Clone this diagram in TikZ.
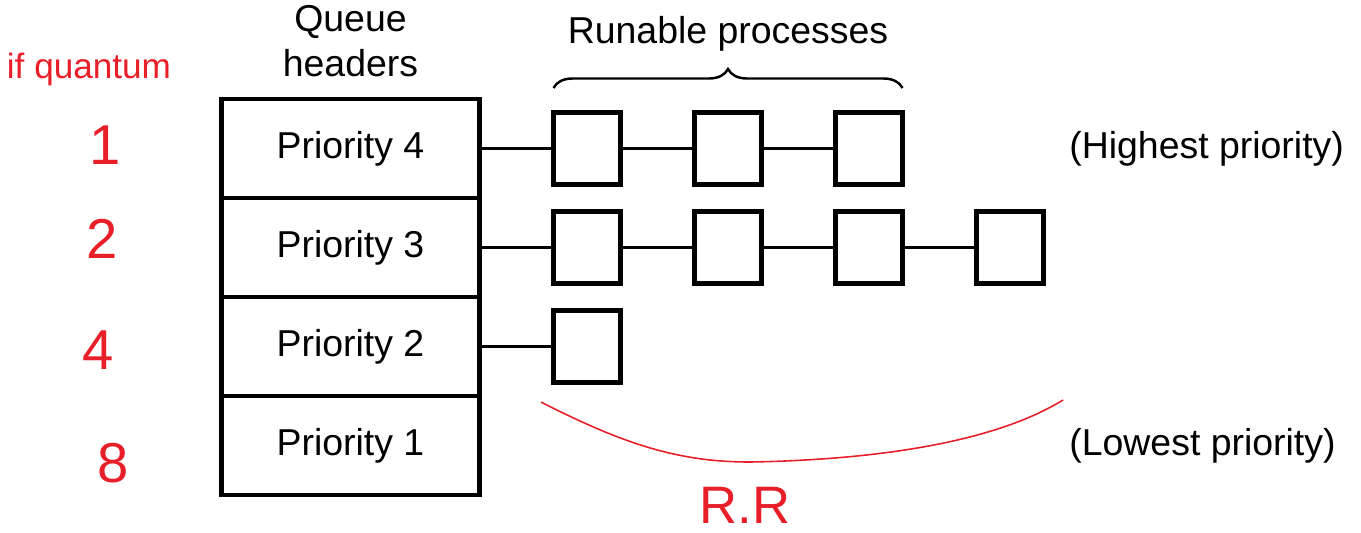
\documentclass[tikz,border=0pt]{standalone}
\usepackage{fontspec}
\setmainfont{Liberation Sans}
\usetikzlibrary{calc, positioning, decorations.pathreplacing}
\definecolor{ink}{RGB}{232,30,40}

\begin{document}
\begin{tikzpicture}[hdr/.style = {draw, line width = 2.3pt, minimum width = 5.16cm, minimum height = 1.98cm, outer sep = 0pt, font = \fontsize{21.3}{25.6}\selectfont},
proc/.style = {draw, line width = 2.3pt, minimum width = 1.34cm, minimum height = 1.44cm, outer sep = 0pt},
lbl/.style = {inner sep = 0pt, font = \fontsize{21.3}{25.6}\selectfont},
hand/.style = {text = ink, inner sep = 0pt, font = \fontsize{32}{36}\selectfont},
node distance = 1.48cm]
\useasboundingbox (0,0) rectangle (27.22,-10.64);
% queue headers
\node[hdr] (P4) at (7.01,-2.97) {Priority 4};
\node[hdr, below = 0pt of P4] (P3) {Priority 3};
\node[hdr, below = 0pt of P3] (P2) {Priority 2};
\node[hdr, below = 0pt of P2] (P1) {Priority 1};
\node[lbl, align = center, above = 0.44cm of P4] (qh) {Queue\\headers};
% runable processes
\node[proc, right = of P4] (a1) {};
\node[proc, right = of a1] (a2) {};
\node[proc, right = of a2] (a3) {};
\node[proc, right = of P3] (b1) {};
\node[proc, right = of b1] (b2) {};
\node[proc, right = of b2] (b3) {};
\node[proc, right = of b3] (b4) {};
\node[proc, right = of P2] (c1) {};
\foreach  \i/\j in {
P4/a1, a1/a2, a2/a3, P3/b1, b1/b2, b2/b3, b3/b4, P2/c1}{
\draw[line width = 2pt] (\i) -- (\j);
}
\draw[decorate, decoration = {brace, amplitude = 0.38cm, raise = 0.49cm}, line width = 1.4pt] (a1.north west) -- (a3.north east);
\node[lbl, anchor = base] (run) at ($(a2.north)+(0,1.39)$) {Runable processes};
\node[lbl, right = 3.33cm of a3] (hi) {(Highest priority)};
\node[lbl, anchor = west] (lo) at (hi.west |- P1) {(Lowest priority)};
% red notes
\node[hand, font = \fontsize{20}{24}\selectfont] (q) at (1.78,-1.38) {if quantum};
\node[hand] (n1) at (2.1,-2.9) {1};
\node[hand] (n2) at (2.04,-4.78) {2};
\node[hand] (n4) at (1.96,-7.0) {4};
\node[hand] (n8) at (2.26,-9.26) {8};
\draw[ink, line width = 0.9pt] (10.82,-8.04) .. controls (12.5,-8.9) and (13.6,-9.24) .. (15.0,-9.24) .. controls (17.3,-9.2) and (19.8,-8.9) .. (21.26,-8.0);
\node[hand, font = \fontsize{30}{34}\selectfont] (rr) at (14.9,-10.1) {R.R};
\end{tikzpicture}
\end{document}
